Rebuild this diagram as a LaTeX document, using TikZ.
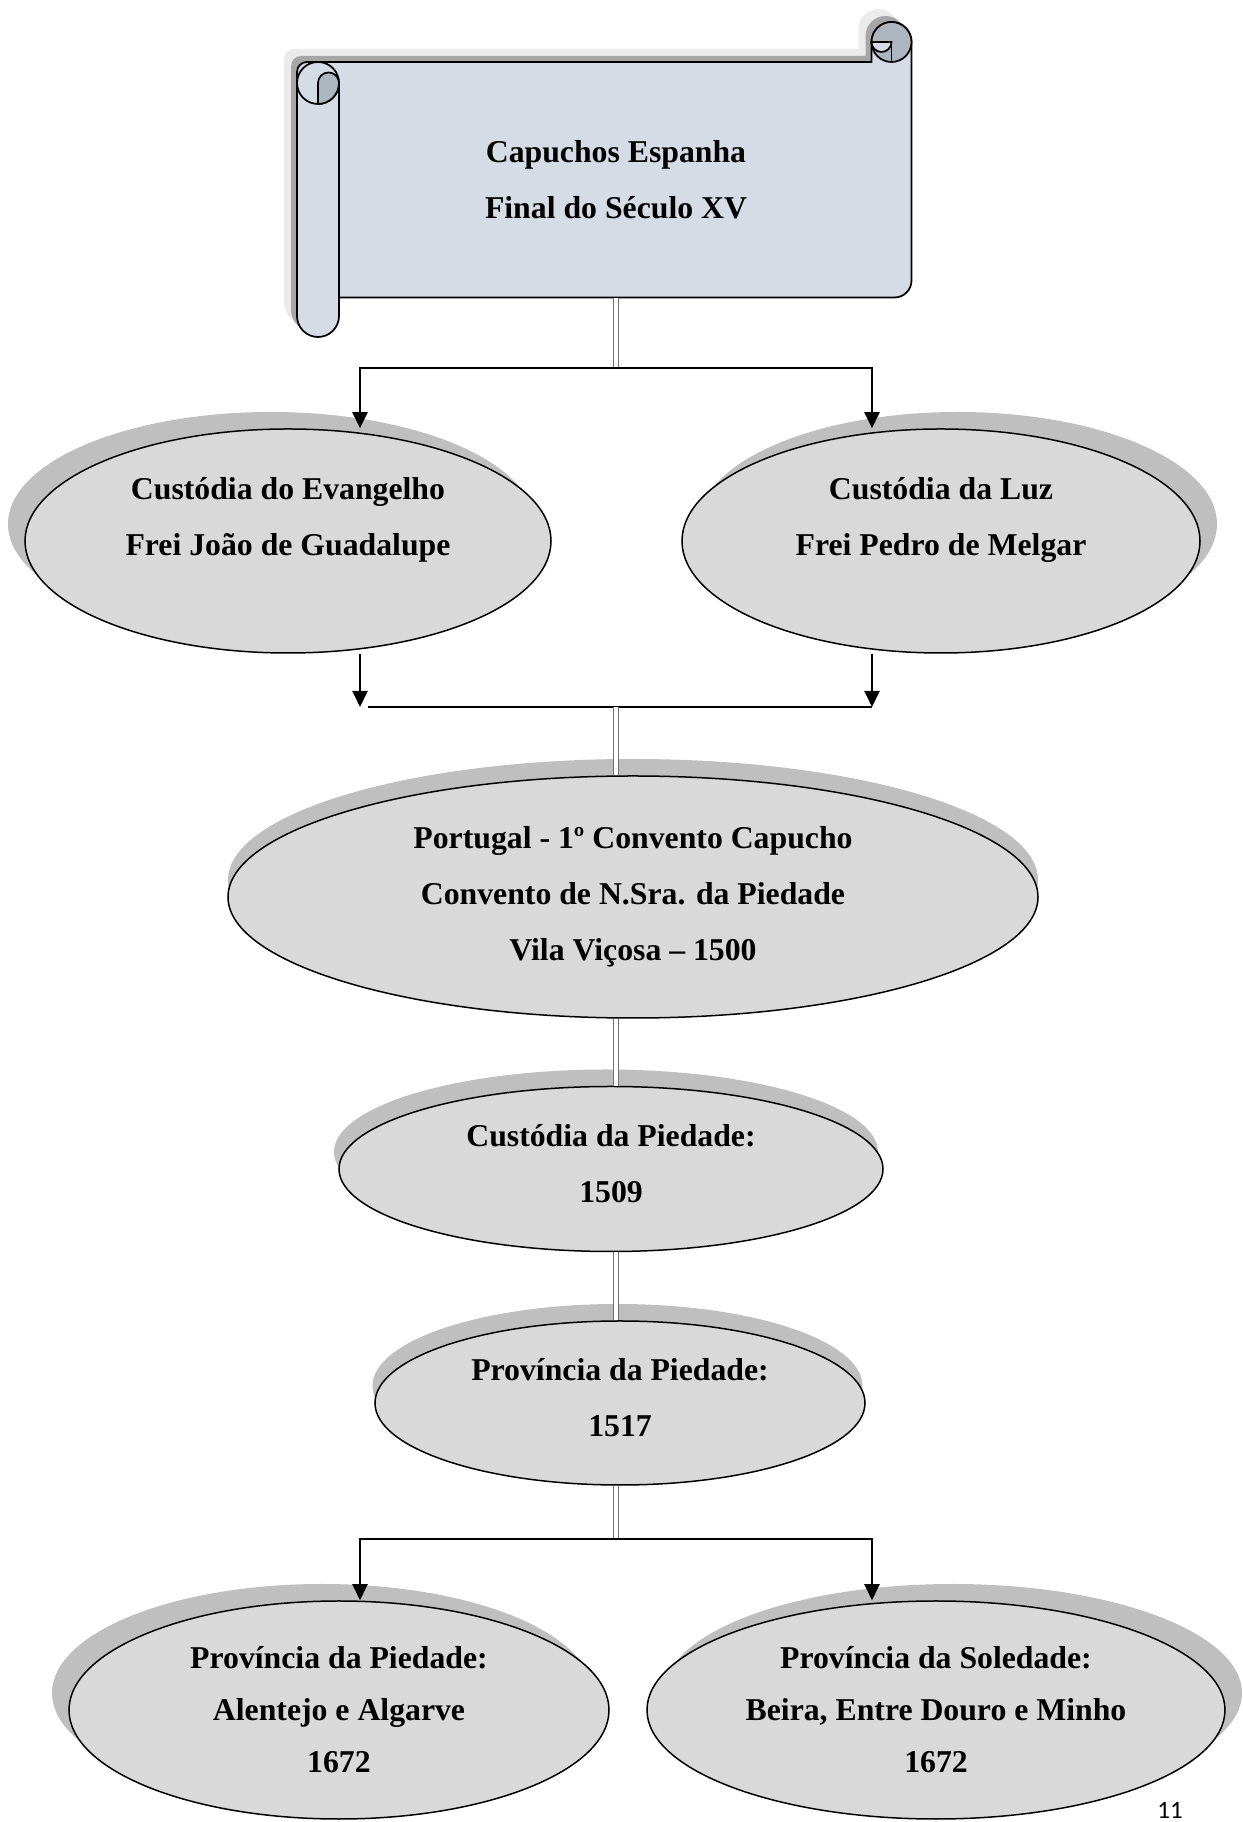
\documentclass[tikz,border=0pt]{standalone}
\usepackage{fontspec}
\setmainfont{Liberation Serif}
\newfontfamily\pagenumfont{Carlito}
\usetikzlibrary{shapes.geometric,shadows,arrows.meta}

\definecolor{scrollblue}{HTML}{D6DCE5}
\definecolor{curlgray}{HTML}{ADB5BF}
\definecolor{ovalgray}{HTML}{D9D9D9}
\definecolor{shadegray}{HTML}{BFBFBF}

\newcommand{\scrolloutline}{(297,1506) -- (297,1750) arc[start angle=180,end angle=90,radius=10]
  -- (871.5,1760) -- (871.5,1780) arc[start angle=180,end angle=0,radius=20]
  -- (911.5,1541.5) arc[start angle=0,end angle=-90,radius=17]
  -- (339,1524.5) -- (339,1506) arc[start angle=0,end angle=-180,radius=21] -- cycle}

\begin{document}
\begin{tikzpicture}[x=0.4pt,y=0.4pt,>={Triangle[width=6pt,length=6.4pt]},line width=0.8pt,align=center,
        font=\bfseries\fontsize{12.7pt}{22.4pt}\selectfont,
        oval/.style={ellipse,draw,line width=0.6pt,fill=ovalgray,inner sep=0pt,
          drop shadow={shadow xshift=#1,shadow yshift=6.8pt,fill=shadegray,opacity=1}},
        oval/.default=-6.8pt,
        tight/.style={font=\bfseries\fontsize{12.7pt}{20.8pt}\selectfont},
        dbl/.style={draw=black!55,line width=0.5pt,double=white,double distance=1.5pt}]
        \useasboundingbox (0,0) rectangle (1243,1822);

        % scroll
        \fill[black!8,shift={(-13,13)}] \scrolloutline;
        \fill[black!35,shift={(-6,6)}] \scrolloutline;
        \filldraw[fill=scrollblue,line width=0.7pt] \scrolloutline;
        \draw[line width=0.7pt] (339,1739) -- (339,1524.5);
        \filldraw[fill=scrollblue,line width=0.7pt] (318,1739) circle[radius=21];
        \filldraw[fill=curlgray,line width=0.7pt] (318,1718) -- (318,1739) arc[start angle=180,end angle=0,radius=10.5]
          arc[start angle=0,end angle=-90,radius=21] -- cycle;
        \filldraw[fill=curlgray,line width=0.7pt] (891.5,1780) circle[radius=20];
        \filldraw[fill=scrollblue,line width=0.7pt] (871.5,1780) arc[start angle=180,end angle=360,radius=10] -- cycle;
        \draw[line width=0.7pt] (891.5,1780) -- (891.5,1760);

        \node[minimum height=94.2pt,minimum width=200pt] (capuchos) at (616,1642.25) {Capuchos Espanha\\Final do Século XV};

        \node[oval,minimum width=210.4pt,minimum height=89.6pt] (evang) at (288,1281) {Custódia do Evangelho\\Frei João de Guadalupe\\[-2.4pt]\mbox{}};
        \node[oval=6.8pt,minimum width=207.2pt,minimum height=89.6pt] (luz) at (941,1281) {Custódia da Luz\\Frei Pedro de Melgar\\[-2.4pt]\mbox{}};
        \node[oval=0pt,minimum width=324pt,minimum height=96.8pt] (piedade) at (633,925) {Portugal - 1º Convento Capucho\\Convento de N.Sra. da Piedade\\Vila Viçosa – 1500};
        \node[oval=-2pt,minimum width=217.6pt,minimum height=66pt] (custpied) at (611,653) {Custódia da Piedade:\\1509\\[-18pt]\mbox{}};
        \node[oval=-1pt,minimum width=196pt,minimum height=65.6pt] (provpied) at (620,419) {Província da Piedade:\\1517\\[-18pt]\mbox{}};
        \node[oval,tight,minimum width=216pt,minimum height=87.2pt] (alentejo) at (339,112) {Província da Piedade:\\Alentejo e Algarve\\1672};
        \node[oval=6.8pt,tight,minimum width=231.2pt,minimum height=87.2pt] (soledade) at (936,112) {Província da Soledade:\\Beira, Entre Douro e Minho\\1672};

        \coordinate (split1) at (616,1454);
        \coordinate (join1) at (616,1115);
        \coordinate (split2) at (616,283);

        \draw[dbl] (capuchos.south) -- (split1);
        \draw[->] (split1) -| ([xshift=28.8pt]evang.north);
        \draw[->] (split1) -| ([xshift=-27.6pt]luz.north);
        \draw[->] ([xshift=28.8pt]evang.south) -- ([xshift=28.8pt]evang.south |- join1);
        \draw[->] ([xshift=-27.6pt]luz.south) -- ([xshift=-27.6pt]luz.south |- join1);
        \draw ([xshift=32pt]evang.south |- join1) -- ([xshift=-27.6pt]luz.south |- join1);
        \draw[dbl] (join1) -- (join1 |- piedade.north);
        \draw[dbl] (piedade.south -| join1) -- (custpied.north -| join1);
        \draw[dbl] (custpied.south -| join1) -- (provpied.north -| join1);
        \draw[dbl] (provpied.south -| join1) -- (split2);
        \draw[->] (split2) -| ([xshift=8.4pt]alentejo.north);
        \draw[->] (split2) -| ([xshift=-25.6pt]soledade.north);

        \node[font=\pagenumfont\fontsize{10pt}{12pt}\selectfont,anchor=base] (pagenum) at (1170,3) {11};
\end{tikzpicture}
\end{document}
